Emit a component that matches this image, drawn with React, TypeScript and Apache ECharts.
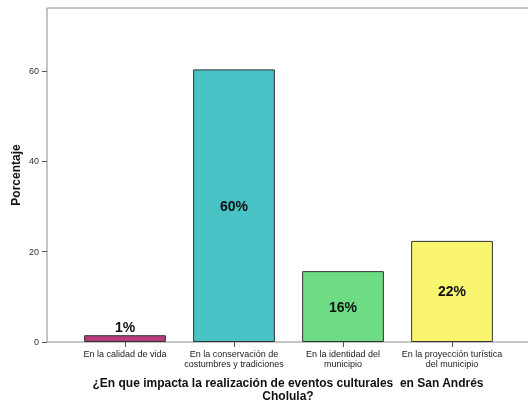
import React, { useEffect, useRef } from "react";
import * as echarts from "echarts";

const categories = [
  "En la calidad de vida",
  "En la conservación de\ncostumbres y tradiciones",
  "En la identidad del\nmunicipio",
  "En la proyección turística\ndel municipio",
];
const values = [1.5, 60.4, 15.7, 22.4];
const valueLabels = ["1%", "60%", "16%", "22%"];
const colors = ["#b93b7a", "#48c2c5", "#6edc84", "#f9f56f"];
const yTicks = [0, 20, 40, 60];
const xTitle = "¿En que impacta la realización de eventos culturales  en San Andrés\nCholula?";
const yTitle = "Porcentaje";

export default function App() {
  const ref = useRef<HTMLDivElement>(null);
  useEffect(() => {
    if (!ref.current) return;
    const chart = echarts.init(ref.current, null, { renderer: "svg" });
    const font = "'Liberation Sans', Arial, sans-serif";
    chart.setOption({
      animation: false,
      textStyle: { fontFamily: font },
      grid: [
        { left: 47, right: -1, top: 8, bottom: 62, show: true, borderColor: "#8c8c8c", borderWidth: 1, backgroundColor: "transparent", containLabel: false, outerBoundsMode: "none" },
        { left: 70.5, right: 21.5, top: 8, bottom: 62, containLabel: false, outerBoundsMode: "none" },
      ],
      xAxis: [
        {
          gridIndex: 0,
          type: "value",
          min: 0,
          max: 1,
          axisLine: { show: false },
          axisTick: { show: false },
          axisLabel: { show: false },
          splitLine: { show: false },
          name: xTitle,
          nameLocation: "middle",
          nameGap: 34,
          nameTextStyle: { fontFamily: font, fontSize: 12, fontWeight: "bold", color: "#111", lineHeight: 13 },
        },
        {
          gridIndex: 1,
          type: "category",
          data: categories,
          axisLine: { show: false },
          axisTick: { show: true, alignWithLabel: true, length: 5, lineStyle: { color: "#555" } },
          axisLabel: { fontFamily: font, fontSize: 9, color: "#222", lineHeight: 10, margin: 7, interval: 0 },
        },
      ],
      yAxis: [
        {
          gridIndex: 0,
          type: "value",
          min: 0,
          max: 74,
          interval: 20,
          axisLine: { show: false },
          axisTick: { show: true, length: 5, lineStyle: { color: "#555" }, customValues: yTicks },
          axisLabel: { fontFamily: font, fontSize: 9, color: "#333", margin: 8, customValues: yTicks },
          splitLine: { show: false },
          name: yTitle,
          nameLocation: "middle",
          nameGap: 25,
          nameMoveOverlap: false,
          nameTextStyle: { fontFamily: font, fontSize: 12, fontWeight: "bold", color: "#111" },
        },
        {
          gridIndex: 1,
          type: "value",
          min: 0,
          max: 74,
          interval: 20,
          show: false,
        },
      ],
      series: [
        {
          type: "bar",
          xAxisIndex: 1,
          yAxisIndex: 1,
          barWidth: "75%",
          data: values.map((v, i) => ({
            value: v,
            itemStyle: { color: colors[i], borderColor: "#333", borderWidth: 1 },
            label: {
              show: true,
              position: i === 0 ? "top" : "inside",
              distance: 1,
              formatter: valueLabels[i],
              fontFamily: font,
              fontSize: 14,
              fontWeight: "bold",
              color: "#111",
            },
          })),
        },
      ],
    });
    return () => chart.dispose();
  }, []);
  return <div ref={ref} style={{ position: "fixed", left: 0, top: 0, width: 528, height: 404 }} />;
}
